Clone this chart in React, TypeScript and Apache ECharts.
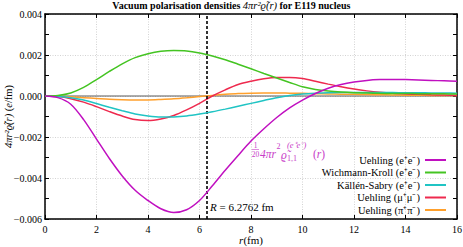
import React, { useEffect, useRef } from "react";
import * as echarts from "echarts";

const xs = [0, 0.5, 1, 1.5, 2, 2.5, 3, 3.5, 4, 4.5, 5, 5.5, 6, 6.5, 7, 7.5, 8, 8.5, 9, 9.5, 10, 10.5, 11, 11.5, 12, 12.5, 13, 13.5, 14, 14.5, 15, 15.5, 16];

// values in units of 1e-3 e/fm
const uehlingEE = [0, -0.08, -0.4, -1.15, -2.1, -3.05, -3.9, -4.6, -5.1, -5.5, -5.68, -5.55, -5.1, -4.38, -3.62, -2.9, -2.2, -1.6, -1.05, -0.58, -0.2, 0.12, 0.38, 0.56, 0.68, 0.76, 0.8, 0.81, 0.8, 0.78, 0.76, 0.74, 0.72];
const wichmannKroll = [0, 0.03, 0.15, 0.42, 0.8, 1.2, 1.57, 1.87, 2.06, 2.18, 2.22, 2.2, 2.1, 1.95, 1.77, 1.55, 1.33, 1.1, 0.88, 0.66, 0.45, 0.32, 0.24, 0.19, 0.16, 0.145, 0.13, 0.125, 0.12, 0.115, 0.11, 0.105, 0.1];
const kallenSabry = [0, -0.02, -0.08, -0.2, -0.37, -0.55, -0.72, -0.88, -0.98, -1.03, -1.02, -0.97, -0.88, -0.77, -0.64, -0.5, -0.36, -0.22, -0.08, 0.03, 0.1, 0.14, 0.16, 0.17, 0.17, 0.17, 0.17, 0.165, 0.16, 0.155, 0.15, 0.145, 0.14];
const uehlingMuMu = [0, -0.03, -0.13, -0.3, -0.52, -0.76, -0.98, -1.15, -1.2, -1.12, -0.95, -0.68, -0.36, 0.0, 0.3, 0.56, 0.72, 0.84, 0.9, 0.9, 0.85, 0.72, 0.58, 0.45, 0.34, 0.25, 0.18, 0.13, 0.1, 0.08, 0.06, 0.045, 0.03];
const uehlingPiPi = [0, -0.01, -0.04, -0.08, -0.12, -0.16, -0.18, -0.19, -0.19, -0.17, -0.14, -0.09, -0.03, 0.03, 0.08, 0.12, 0.14, 0.15, 0.15, 0.14, 0.13, 0.115, 0.1, 0.09, 0.08, 0.07, 0.06, 0.05, 0.04, 0.035, 0.03, 0.025, 0.02];

const seriesNames = ["Uehling (e+e-)", "Wichmann-Kroll (e+e-)", "Källén-Sabry (e+e-)", "Uehling (mu+mu-)", "Uehling (pi+pi-)"];
const legendLabels = ["Uehling (e⁺e⁻)", "Wichmann-Kroll (e⁺e⁻)", "Källén-Sabry (e⁺e⁻)", "Uehling (μ⁺μ⁻)", "Uehling (π⁺π⁻)"];
const seriesValues = [uehlingEE, wichmannKroll, kallenSabry, uehlingMuMu, uehlingPiPi];
const seriesColors = ["#c010c0", "#44c422", "#20c4c4", "#ee2a4e", "#ffa02c"];

const nuclearRadius = 6.2762;
const xTicks = [0, 2, 4, 6, 8, 10, 12, 14, 16];
const yRange = [-0.006, 0.004];

const SERIF = "Liberation Serif";
const MAG = "#c83cc8";

export default function App() {
  const ref = useRef<HTMLDivElement>(null);
  useEffect(() => {
    const chart = echarts.init(ref.current!, null, { renderer: "svg" });
    const toPairs = (vals: number[]) => xs.map((x, i) => [x, vals[i] / 1000]);
    const fmtY = (v: number) => (Math.abs(v) < 1e-9 ? "0.000" : v.toFixed(3).replace("-", "−"));
    const axisLine = { show: true, onZero: false, lineStyle: { color: "#000", width: 1.5 } };
    const tick = { show: true, inside: true, length: 4, lineStyle: { color: "#000", width: 1 } };
    const split = { show: true, lineStyle: { color: "#c8c8c8", type: [1, 1.5], width: 0.8 } };
    const txt = (size: number, extra: any = {}) => ({ fontSize: size, fontFamily: SERIF, ...extra });

    const series: any[] = [
      {
        name: "zero",
        type: "line",
        data: [[xTicks[0], 0], [xTicks[xTicks.length - 1], 0]],
        symbol: "none",
        silent: true,
        lineStyle: { color: "#5a5a5a", width: 1 },
        z: 1,
        markLine: {
          symbol: "none",
          silent: true,
          label: { show: false },
          lineStyle: { color: "#000", type: [3, 2], width: 1.6 },
          data: [{ xAxis: nuclearRadius }],
        },
      },
    ];
    seriesNames.forEach((name, i) => {
      series.push({
        name,
        type: "line",
        data: toPairs(seriesValues[i]),
        smooth: 0.3,
        symbol: "none",
        lineStyle: { color: seriesColors[i], width: 1.5 },
        itemStyle: { color: seriesColors[i] },
        z: 5 - i + 2,
      });
    });

    chart.setOption({
      animation: false,
      textStyle: { fontFamily: SERIF },
      grid: { left: 45, top: 14, right: 6, bottom: 28, outerBoundsMode: "none", containLabel: false },
      xAxis: [
        {
          type: "value",
          min: 0,
          max: 16,
          interval: 2,
          axisLine,
          axisTick: tick,
          splitLine: split,
          axisLabel: { color: "#000", ...txt(10), margin: 5 },
          name: "{i|r}(fm)",
          nameLocation: "middle",
          nameGap: 15,
          nameMoveOverlap: false,
          nameTextStyle: { color: "#000", ...txt(11), rich: { i: { ...txt(11, { fontStyle: "italic" }), color: "#000" } } },
        },
        {
          type: "value",
          position: "top",
          min: 0,
          max: 16,
          interval: 2,
          axisLine,
          axisTick: tick,
          splitLine: { show: false },
          axisLabel: { show: false },
        },
      ],
      yAxis: [
        {
          type: "value",
          min: yRange[0],
          max: yRange[1],
          interval: 0.002,
          axisLine,
          axisTick: tick,
          minorTick: { show: true, splitNumber: 2, length: 4, lineStyle: { color: "#000", width: 1 } },
          splitLine: split,
          axisLabel: { color: "#000", ...txt(10), margin: 3, formatter: fmtY },
          name: "{i|4πr²ϱ̃(r)} ({i|e}/fm)",
          nameLocation: "middle",
          nameRotate: 90,
          nameGap: 31,
          nameMoveOverlap: false,
          nameTextStyle: { color: "#000", ...txt(10.5), rich: { i: { ...txt(10.5, { fontStyle: "italic" }), color: "#000" } } },
        },
        {
          type: "value",
          position: "right",
          min: yRange[0],
          max: yRange[1],
          interval: 0.002,
          axisLine,
          axisTick: tick,
          minorTick: { show: true, splitNumber: 2, length: 4, lineStyle: { color: "#000", width: 1 } },
          splitLine: { show: false },
          axisLabel: { show: false },
        },
      ],
      legend: {
        data: seriesNames,
        orient: "vertical",
        align: "right",
        right: 12,
        top: 149,
        itemWidth: 21,
        itemHeight: 10,
        itemGap: 0.5,
        icon: "path://M0,4 L21,4 L21,6 L0,6 Z",
        textStyle: { ...txt(10.5), color: "#000", lineHeight: 12 },
        formatter: (n: string) => legendLabels[seriesNames.indexOf(n)],
      },
      graphic: [
        {
          type: "text",
          left: "center",
          top: 0,
          style: {
            text: "{b|Vacuum polarisation densities }{m|4πr²ϱ̃(r)}{b| for E119 nucleus}",
            rich: {
              b: { ...txt(10, { fontWeight: "bold" }), fill: "#000" },
              m: { ...txt(10.5, { fontStyle: "italic" }), fill: "#000" },
            },
          },
        },
        { type: "text", x: 210, y: 207, style: { text: "{i|R} = 6.2762 fm", ...txt(11), fill: "#000", verticalAlign: "middle", rich: { i: txt(11, { fontStyle: "italic" }) } } },
        { type: "text", x: 255.5, y: 145, style: { text: "1", ...txt(7.5), fill: MAG, align: "center", verticalAlign: "middle" } },
        { type: "line", shape: { x1: 252, y1: 149.5, x2: 259, y2: 149.5 }, style: { stroke: MAG, lineWidth: 0.6 } },
        { type: "text", x: 255.5, y: 154.5, style: { text: "20", ...txt(7.5), fill: MAG, align: "center", verticalAlign: "middle" } },
        { type: "text", x: 260, y: 153.5, style: { text: "4πr", ...txt(11.5, { fontStyle: "italic" }), fill: MAG, verticalAlign: "middle" } },
        { type: "text", x: 276.5, y: 146.5, style: { text: "2", ...txt(8), fill: MAG, verticalAlign: "middle" } },
        { type: "text", x: 281, y: 154.5, style: { text: "ϱ̃", ...txt(11.5, { fontStyle: "italic" }), fill: MAG, verticalAlign: "middle" } },
        { type: "text", x: 287, y: 145, style: { text: "(e⁺e⁻)", ...txt(8.5, { fontStyle: "italic" }), fill: MAG, verticalAlign: "middle" } },
        { type: "text", x: 287, y: 158, style: { text: "1,1", ...txt(8), fill: MAG, verticalAlign: "middle" } },
        { type: "text", x: 313, y: 153.5, style: { text: "({i|r})", ...txt(11.5), fill: MAG, verticalAlign: "middle", rich: { i: { ...txt(11.5, { fontStyle: "italic" }), fill: MAG } } } },
      ],
      series,
    });
    return () => chart.dispose();
  }, []);
  return <div ref={ref} style={{ width: 463, height: 247, position: "absolute", left: 0, top: 0 }} />;
}
